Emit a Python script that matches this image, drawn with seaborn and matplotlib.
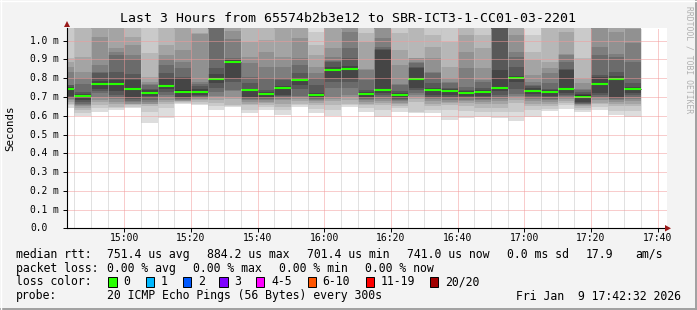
import numpy as np
import pandas as pd
import matplotlib
matplotlib.use("Agg")
import matplotlib.pyplot as plt
import seaborn as sns
from matplotlib import transforms
from matplotlib.patches import Polygon, Rectangle
from matplotlib.lines import Line2D

# ---------------- data (milliseconds) ----------------
C = 1.2  # ping above the graph's upper limit (clipped)
bin_starts = pd.date_range("2026-01-09 14:40", periods=35, freq="5min")
median_ms = [0.742, 0.705, 0.769, 0.769, 0.742, 0.721, 0.758, 0.727, 0.727, 0.796,
             0.884, 0.737, 0.716, 0.748, 0.791, 0.711, 0.844, 0.849, 0.716, 0.737,
             0.711, 0.796, 0.737, 0.732, 0.721, 0.727, 0.748, 0.801, 0.732, 0.727,
             0.742, 0.7014, 0.769, 0.796, 0.741]
# sorted pings 1..10 of each 5-minute round
pings_low = [
    [0.640, 0.655, 0.665, 0.675, 0.685, 0.690, 0.695, 0.700, 0.705, 0.735],
    [0.597, 0.615, 0.630, 0.640, 0.650, 0.657, 0.665, 0.672, 0.685, 0.700],
    [0.620, 0.642, 0.655, 0.675, 0.685, 0.700, 0.720, 0.730, 0.745, 0.766],
    [0.630, 0.640, 0.648, 0.660, 0.675, 0.690, 0.700, 0.710, 0.730, 0.765],
    [0.640, 0.648, 0.655, 0.660, 0.665, 0.672, 0.680, 0.690, 0.700, 0.738],
    [0.563, 0.620, 0.650, 0.660, 0.665, 0.675, 0.685, 0.695, 0.705, 0.718],
    [0.590, 0.640, 0.660, 0.675, 0.685, 0.700, 0.710, 0.725, 0.740, 0.752],
    [0.665, 0.670, 0.673, 0.677, 0.680, 0.685, 0.690, 0.695, 0.700, 0.722],
    [0.655, 0.665, 0.675, 0.685, 0.690, 0.695, 0.700, 0.705, 0.710, 0.722],
    [0.632, 0.650, 0.666, 0.685, 0.700, 0.705, 0.725, 0.748, 0.775, 0.792],
    [0.645, 0.650, 0.657, 0.690, 0.700, 0.730, 0.738, 0.780, 0.799, 0.880],
    [0.613, 0.630, 0.655, 0.665, 0.675, 0.685, 0.690, 0.695, 0.700, 0.735],
    [0.628, 0.645, 0.657, 0.667, 0.675, 0.683, 0.688, 0.692, 0.700, 0.712],
    [0.604, 0.630, 0.648, 0.665, 0.683, 0.690, 0.698, 0.705, 0.712, 0.745],
    [0.648, 0.655, 0.665, 0.680, 0.690, 0.700, 0.705, 0.740, 0.764, 0.788],
    [0.612, 0.635, 0.655, 0.670, 0.678, 0.685, 0.690, 0.695, 0.700, 0.706],
    [0.600, 0.630, 0.657, 0.680, 0.690, 0.700, 0.750, 0.780, 0.800, 0.840],
    [0.645, 0.655, 0.665, 0.685, 0.700, 0.710, 0.750, 0.780, 0.800, 0.845],
    [0.620, 0.640, 0.655, 0.665, 0.675, 0.682, 0.690, 0.695, 0.702, 0.712],
    [0.595, 0.630, 0.655, 0.668, 0.680, 0.690, 0.700, 0.712, 0.720, 0.735],
    [0.622, 0.640, 0.650, 0.660, 0.670, 0.678, 0.685, 0.690, 0.695, 0.706],
    [0.613, 0.622, 0.675, 0.690, 0.700, 0.710, 0.719, 0.735, 0.746, 0.795],
    [0.613, 0.630, 0.650, 0.665, 0.680, 0.690, 0.695, 0.700, 0.710, 0.735],
    [0.578, 0.630, 0.655, 0.668, 0.675, 0.685, 0.695, 0.700, 0.712, 0.730],
    [0.590, 0.625, 0.650, 0.668, 0.678, 0.685, 0.693, 0.700, 0.705, 0.720],
    [0.595, 0.620, 0.640, 0.660, 0.675, 0.683, 0.690, 0.698, 0.705, 0.724],
    [0.586, 0.620, 0.640, 0.660, 0.680, 0.690, 0.700, 0.712, 0.730, 0.745],
    [0.574, 0.620, 0.670, 0.685, 0.695, 0.705, 0.715, 0.740, 0.780, 0.795],
    [0.595, 0.630, 0.650, 0.665, 0.680, 0.688, 0.695, 0.705, 0.715, 0.730],
    [0.623, 0.635, 0.650, 0.660, 0.675, 0.685, 0.690, 0.700, 0.705, 0.724],
    [0.638, 0.655, 0.670, 0.680, 0.690, 0.695, 0.705, 0.712, 0.720, 0.738],
    [0.618, 0.630, 0.640, 0.650, 0.655, 0.660, 0.665, 0.670, 0.675, 0.700],
    [0.630, 0.645, 0.660, 0.670, 0.685, 0.693, 0.700, 0.710, 0.719, 0.765],
    [0.603, 0.625, 0.650, 0.665, 0.675, 0.685, 0.690, 0.695, 0.700, 0.790],
    [0.595, 0.625, 0.650, 0.665, 0.680, 0.690, 0.700, 0.710, 0.720, 0.738],
]
# sorted pings 11..20 of each round
pings_high = [
    [0.748, 0.755, 0.762, 0.766, 0.835, 0.862, 0.885, 0.906, C, C],
    [0.708, 0.715, 0.728, 0.770, 0.800, 0.835, 0.915, C, C, C],
    [0.772, 0.785, 0.830, 0.835, 0.870, 1.022, C, C, C, C],
    [0.772, 0.790, 0.835, 0.925, 0.941, 0.959, C, C, C, C],
    [0.745, 0.790, 0.820, 0.900, 0.924, 0.977, 1.022, C, C, C],
    [0.725, 0.735, 0.745, 0.762, 0.770, 0.780, 0.808, 0.932, C, C],
    [0.765, 0.800, 0.826, 0.870, 0.900, 0.924, 0.977, C, C, C],
    [0.735, 0.800, 0.808, 0.853, 0.888, 0.950, C, C, C, C],
    [0.732, 0.745, 0.758, 0.770, 0.782, 1.035, 1.040, C, C, C],
    [0.800, 0.822, 0.853, C, C, C, C, C, C, C],
    [0.889, 0.895, 0.905, 0.910, 1.010, 1.050, C, C, C, C],
    [0.740, 0.745, 0.772, 0.808, 0.880, 0.915, 0.995, C, C, C],
    [0.720, 0.725, 0.737, 0.799, 0.862, 0.941, 1.004, C, C, C],
    [0.752, 0.758, 0.790, 0.800, 0.862, 0.915, C, C, C, C],
    [0.795, 0.800, 0.826, 0.870, 0.906, 1.013, C, C, C, C],
    [0.715, 0.720, 0.764, 0.800, 0.826, 0.862, 0.924, 0.977, 1.048, C],
    [0.850, 0.860, 0.888, 0.890, 0.915, 0.959, C, C, C, C],
    [0.855, 0.865, 0.906, 0.959, 1.048, C, C, C, C, C],
    [0.720, 0.725, 0.735, 0.790, 0.844, 0.850, 0.995, 1.040, C, C],
    [0.742, 0.951, 0.955, 0.968, 1.013, C, C, C, C, C],
    [0.713, 0.720, 0.730, 0.764, 0.770, 0.870, 0.951, 1.040, C, C],
    [0.800, 0.853, 0.858, 0.879, 0.885, 0.906, 0.910, C, C, C],
    [0.742, 0.750, 0.773, 0.826, 0.835, 0.906, 0.968, 1.031, C, C],
    [0.738, 0.745, 0.746, 0.773, 0.780, 0.799, 0.862, 0.995, C, C],
    [0.727, 0.730, 0.735, 0.755, 0.853, 0.941, 1.031, C, C, C],
    [0.730, 0.735, 0.746, 0.782, 0.790, 0.853, 0.959, 1.031, C, C],
    [0.755, 0.844, C, C, C, C, C, C, C, C],
    [0.805, 0.810, 0.862, 0.915, 0.941, 1.031, C, C, C, C],
    [0.738, 0.750, 0.760, 0.765, 0.780, 0.817, 0.897, 0.941, 1.031, C],
    [0.732, 0.737, 0.745, 0.773, 0.826, 0.853, 0.888, C, C, C],
    [0.745, 0.844, 0.850, 0.888, 0.924, 0.930, 1.048, C, C, C],
    [0.710, 0.715, 0.725, 0.735, 0.745, 0.773, 0.799, 0.906, C, C],
    [0.775, 0.808, 0.815, 0.924, 0.968, C, C, C, C, C],
    [0.800, 0.810, 0.835, 0.915, 0.930, 1.048, C, C, C, C],
    [0.745, 0.755, 0.773, 0.888, 0.986, 1.060, C, C, C, C],
]
y_ticks = [0.0, 0.1, 0.2, 0.3, 0.4, 0.5, 0.6, 0.7, 0.8, 0.9, 1.0]
y_tick_labels = ["0.0", "0.1 m", "0.2 m", "0.3 m", "0.4 m", "0.5 m", "0.6 m",
                 "0.7 m", "0.8 m", "0.9 m", "1.0 m"]
x_tick_labels = ["15:00", "15:20", "15:40", "16:00", "16:20", "16:40", "17:00", "17:20", "17:40"]
loss_labels = ["0", "1", "2", "3", "4-5", "6-10", "11-19", "20/20"]
loss_colors = ["#26ff00", "#00b8ff", "#0059ff", "#7e00ff", "#ff00ff", "#ff5500", "#ff0000", "#a10000"]
smoke_grays = ["#dddddd", "#cacaca", "#b7b7b7", "#a4a4a4", "#919191",
               "#7e7e7e", "#6b6b6b", "#585858", "#454545", "#323232"]

# ---------------- figure ----------------
sns.set_theme(style="white")
plt.rcParams["font.family"] = ["DejaVu Sans Mono", "DejaVu Sans"]
W, H = 697, 310
fig = plt.figure(figsize=(W / 100, H / 100), dpi=100, facecolor="#f3f3f3")
fx = lambda p: p / W
fy = lambda p: 1 - p / H

L, R, T, B = 67, 667, 28, 228.3
ax = fig.add_axes([fx(L), fy(B), (R - L) / W, (B - T) / H])
ax.set_facecolor("white")

t0 = pd.Timestamp("2026-01-09 14:00")
start_min = np.array([(t - t0).total_seconds() / 60 for t in bin_starts])
step = 5.0
x_end = (pd.Timestamp("2026-01-09 17:42:48") - t0).total_seconds() / 60
x_beg = x_end - 180
ymax = 1.0677

lo = np.array(pings_low)
hi = np.array(pings_high)
for k in range(10):
    bottom = lo[:, k]
    top = hi[:, 9 - k]
    ax.bar(start_min, top - bottom, bottom=bottom, width=step, align="edge",
           color=smoke_grays[k], linewidth=0, antialiased=False, zorder=1)

# thin dark median step line
df = pd.DataFrame({"t": np.append(start_min, start_min[-1] + step),
                   "median": np.append(median_ms, median_ms[-1])})
sns.lineplot(data=df, x="t", y="median", drawstyle="steps-post", color="#202020",
             lw=0.7, ax=ax, zorder=2)
ax.hlines(median_ms, start_min, start_min + step, color=loss_colors[0], lw=1.5, zorder=2.2)

ax.set_xlim(x_beg, x_end)
ax.set_ylim(0, ymax)

# grid drawn on top of the smoke (dotted)
maj_x = np.arange(60, 221, 20)
for t in np.arange(45, 221, 5):
    if t in maj_x:
        continue
    ax.axvline(t, color="#c4c4c4", lw=0.72, ls=(0, (1, 1)), zorder=3)
for t in maj_x:
    ax.axvline(t, color="#f29a9a", lw=0.72, ls=(0, (1, 1)), zorder=3.1)
for v in y_ticks[1:]:
    ax.axhline(v, color="#f29a9a", lw=0.72, ls=(0, (1, 1)), zorder=3.1)

for s in ["top", "right"]:
    ax.spines[s].set_visible(False)
for s in ["left", "bottom"]:
    ax.spines[s].set_color("#000000")
    ax.spines[s].set_linewidth(0.8)
    ax.spines[s].set_zorder(4)
ax.set_xticks(maj_x)
ax.set_xticklabels([])
ax.set_yticks(y_ticks)
ax.set_yticklabels([])
ax.tick_params(axis="both", which="major", length=3.2, width=0.7, color="#000000",
               direction="out", bottom=True, left=True, pad=1)
ax.set_xlabel("")
ax.set_ylabel("")

# tick labels
ytr = transforms.blended_transform_factory(fig.transFigure, ax.transData)
for v, s in zip(y_ticks, y_tick_labels):
    fig.text(fx(30), v, s, transform=ytr, ha="left", va="center", fontsize=6.9, color="#000")
xtr = transforms.blended_transform_factory(ax.transData, fig.transFigure)
for t, s in zip(maj_x, x_tick_labels):
    fig.text(t, fy(238), s, transform=xtr, ha="center", va="center", fontsize=7.0, color="#000")

# arrows
fig.add_artist(Polygon([[fx(64), fy(27)], [fx(70), fy(27)], [fx(67), fy(21)]], closed=True,
                       transform=fig.transFigure, color="#9a1a1a", lw=0))
fig.add_artist(Polygon([[fx(665), fy(225)], [fx(665), fy(231.5)], [fx(671), fy(228.3)]], closed=True,
                       transform=fig.transFigure, color="#9a1a1a", lw=0))

# titles
fig.text(fx(348.5), fy(19), "Last 3 Hours from 65574b2b3e12 to SBR-ICT3-1-CC01-03-2201",
         ha="center", va="center", fontsize=9.55, color="#000")
fig.text(fx(10), fy(128), "Seconds", rotation=90, ha="center", va="center", fontsize=7.8, color="#000")
fig.text(fx(688.5), fy(60), "RRDTOOL / TOBI OETIKER", rotation=270, ha="center", va="center",
         fontsize=5.8, color="#b0b0b0")

# legend lines
fs = 8.3
def put(x, y, s):
    fig.text(fx(x), fy(y), s, ha="left", va="center", fontsize=fs, color="#000")

put(16, 254.3, "median rtt:")
for x, s in zip([107.3, 207.3, 307.3, 406.7, 506.7, 586, 635],
                ["751.4 us avg", "884.2 us max", "701.4 us min", "741.0 us now",
                 "0.0 ms sd", "17.9", "am/s"]):
    put(x, 254.3, s)
put(16, 268.3, "packet loss:")
for x, s in zip([107.3, 193.3, 279.3, 365], ["0.00 % avg", "0.00 % max", "0.00 % min", "0.00 % now"]):
    put(x, 268.3, s)
put(16, 281.7, "loss color:")
box_x = [108.3, 145.7, 182.7, 219.3, 256, 307.7, 366, 430]
for bx, lab, col in zip(box_x, loss_labels, loss_colors):
    fig.add_artist(Rectangle((fx(bx), fy(286.7)), 8.4 / W, 10 / H, transform=fig.transFigure,
                             facecolor=col, edgecolor="#000", lw=0.7))
    put(bx + 15, 281.7, lab)
put(16, 296, "probe:")
put(107.3, 296, "20 ICMP Echo Pings (56 Bytes) every 300s")
fig.text(fx(680.5), fy(296), "Fri Jan  9 17:42:32 2026", ha="right", va="center", fontsize=fs, color="#000")

# image frame
fig.add_artist(Line2D([0, 1], [fy(309), fy(309)], transform=fig.transFigure, color="#a0a0a0", lw=1.4))
fig.add_artist(Line2D([fx(696), fx(696)], [0, 1], transform=fig.transFigure, color="#a0a0a0", lw=1.4))
fig.add_artist(Line2D([0, 1], [fy(0.5), fy(0.5)], transform=fig.transFigure, color="#ffffff", lw=1.0))
fig.add_artist(Line2D([fx(0.5), fx(0.5)], [0, 1], transform=fig.transFigure, color="#ffffff", lw=1.0))

fig.savefig("out.png", dpi=100, facecolor=fig.get_facecolor())
